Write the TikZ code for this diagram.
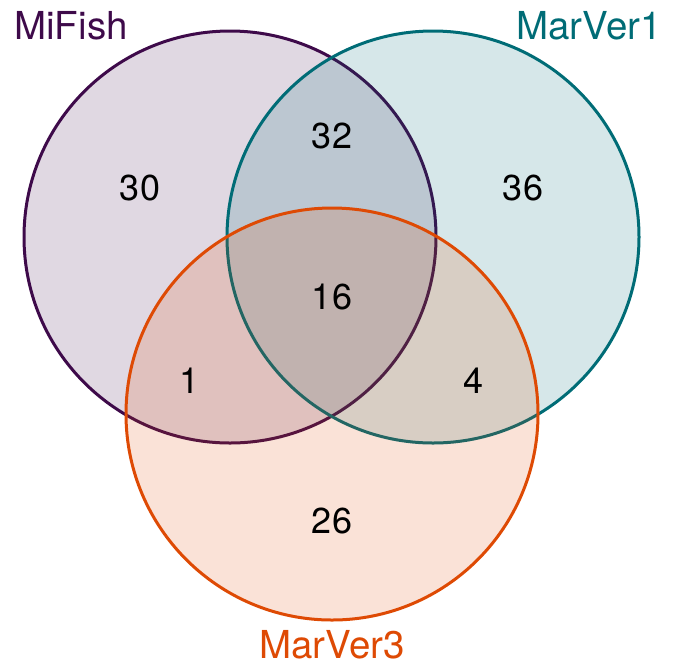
\documentclass[tikz,border=0pt]{standalone}
\usepackage{fontspec}
\setmainfont{TeX Gyre Heros}
\definecolor{cpurple}{RGB}{62,10,74}
\definecolor{cteal}{RGB}{0,108,118}
\definecolor{corange}{RGB}{222,74,4}
\begin{document}
\begin{tikzpicture}[x=1pt,y=-1pt,
  setc/.style={circle, minimum size=412pt, inner sep=0pt, line width=3pt, fill opacity=0.16, draw opacity=1},
  lab/.style={anchor=base, font=\fontsize{38.5}{42}\selectfont, inner sep=0pt, text depth=0pt},
  num/.style={anchor=base, font=\fontsize{36}{40}\selectfont, inner sep=0pt, text=black}]
\useasboundingbox (0,0) rectangle (676,665);
\node[setc, draw=cpurple, fill=cpurple] (A) at (230,237) {};
\node[setc, draw=cteal, fill=cteal] (B) at (433,237) {};
\node[setc, draw=corange, fill=corange] (C) at (332,414) {};
\node[lab, text=cpurple] (lA) at (71,39) {MiFish};
\node[lab, text=cteal] (lB) at (589,39) {MarVer1};
\node[lab, text=corange] (lC) at (332,658) {MarVer3};
\node[num] (n30) at (140,200) {30};
\node[num] (n32) at (332,148) {32};
\node[num] (n36) at (523,200) {36};
\node[num] (n16) at (332,309) {16};
\node[num] (n1) at (190,393) {1};
\node[num] (n4) at (473,393) {4};
\node[num] (n26) at (332,533) {26};
\end{tikzpicture}
\end{document}
